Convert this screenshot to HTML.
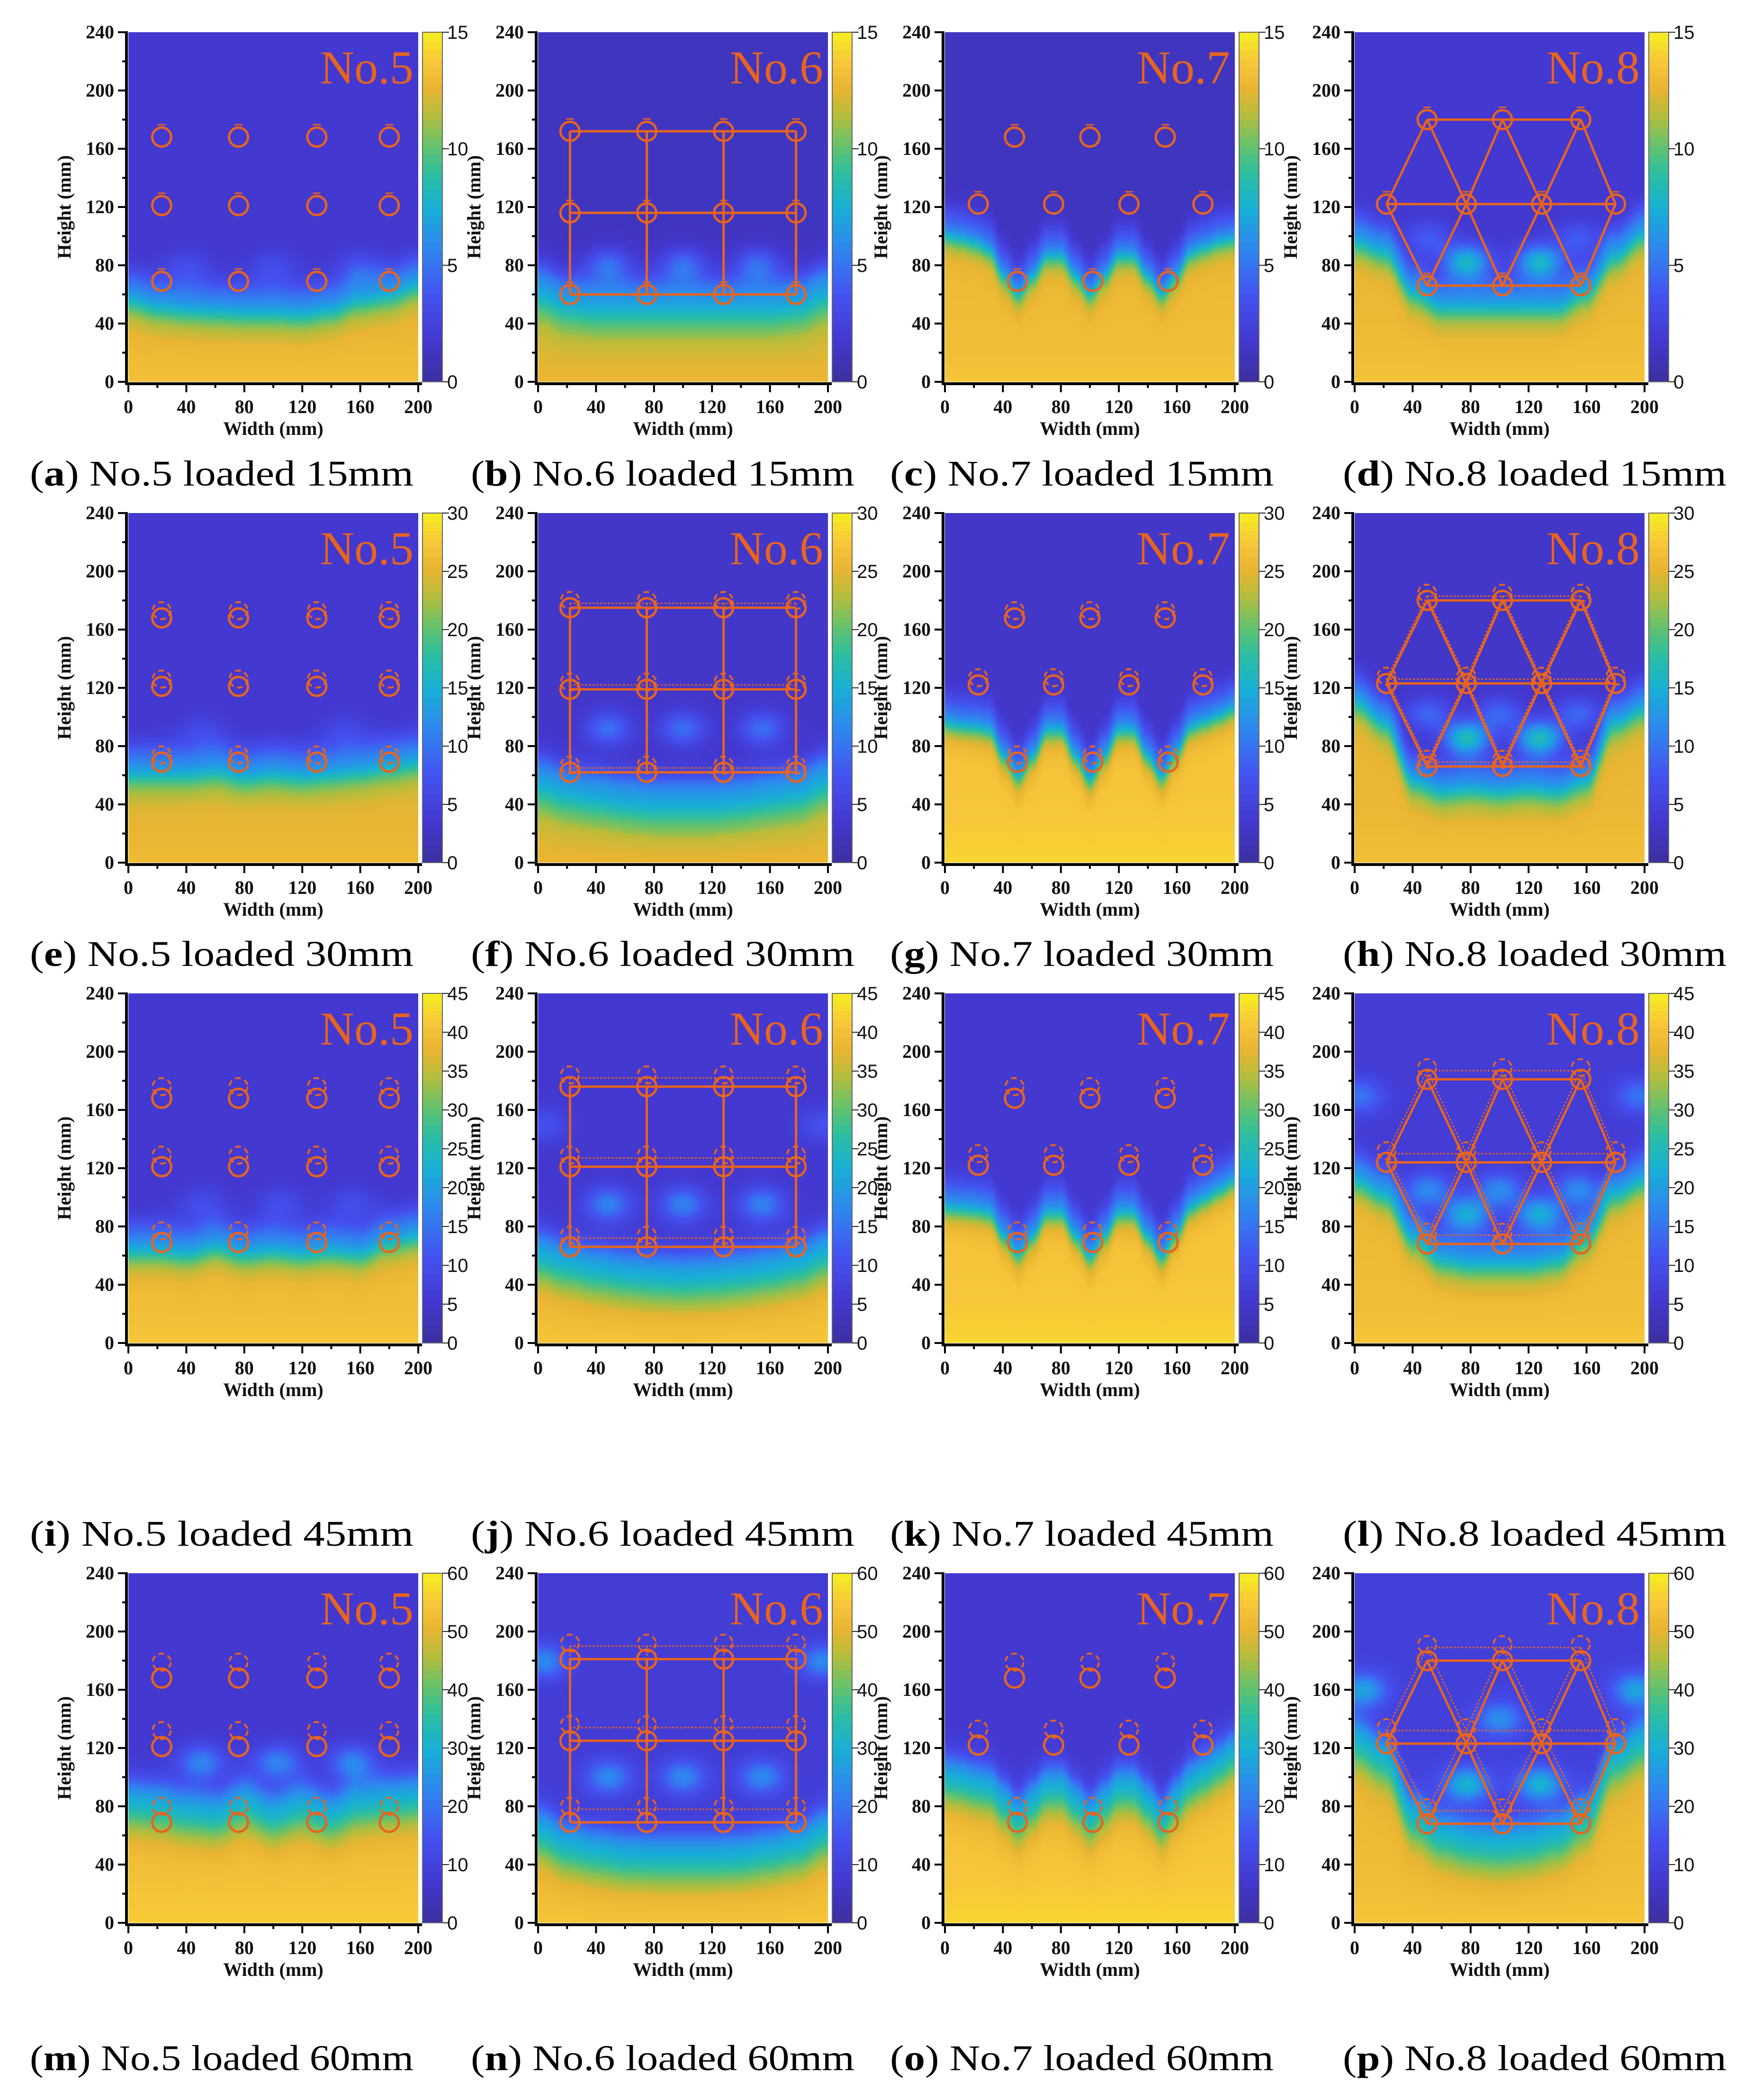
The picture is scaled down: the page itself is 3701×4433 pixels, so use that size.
<!DOCTYPE html>
<html><head><meta charset="utf-8">
<style>
html,body{margin:0;padding:0;background:#fff;}
#root{position:relative;width:3701px;height:4433px;overflow:hidden;background:#fff;}
canvas{position:absolute;}
svg{position:absolute;left:0;top:0;}
</style></head>
<body>
<div id="root">
<svg id="ov" width="3701" height="4433" xmlns="http://www.w3.org/2000/svg"></svg>
</div>
<script>
// ---- data ----
const panelIds = ["a","b","c","d","e","f","g","h","i","j","k","l","m","n","o","p"];
const specimens = ["No.5","No.6","No.7","No.8"];
const loads = [15,30,45,60];
const cbMax = [15,30,45,60];
const cbStep = [5,5,5,10];
const xTicks = [0,40,80,120,160,200];
const yTicks = [0,40,80,120,160,200,240];
// front height (mm), evenly spaced across width 0..200
const fronts = [
 [55,50,48,47,46,46,45,48,55,58,65],
 [60,52,50,50,50,50,50,50,50,52,60],
 [100,98,95,90,72,60,72,86,86,72,60,72,86,86,72,60,72,88,92,96,98],
 [95,88,60,50,50,50,50,50,60,85,100],
 [60,60,60,62,58,60,58,60,62,65,68],
 [52,46,43,40,38,38,38,40,43,46,54],
 [95,93,92,90,72,58,72,90,90,72,56,72,90,90,72,58,74,92,96,100,105],
 [110,95,55,48,50,48,50,48,55,95,105],
 [62,62,60,65,60,62,60,62,60,68,72],
 [56,50,46,43,41,40,41,43,46,50,58],
 [92,91,90,88,72,60,72,88,88,72,58,72,88,88,72,58,74,92,98,104,110],
 [110,100,70,55,52,52,52,55,70,100,110],
 [78,76,72,70,78,70,76,70,78,80,82],
 [58,48,44,41,40,40,40,41,44,48,58],
 [95,93,90,88,78,68,78,88,88,78,68,78,88,88,78,66,80,92,98,105,112],
 [120,108,68,55,50,48,50,55,68,108,120]
];
const hiVals = [0.84,0.8,0.86,0.85,0.82,0.8,0.9,0.84,0.86,0.86,0.9,0.86,0.88,0.86,0.9,0.86];
const loVals = [0.12,0.08,0.08,0.12,0.12,0.1,0.1,0.1,0.12,0.12,0.12,0.14,0.12,0.14,0.12,0.16];
// pockets: [x mm, y mm, amplitude]
const pockets = [
 [[40,78,0.1],[100,78,0.1],[160,78,0.1]],
 [[48,80,0.22],[100,80,0.22],[152,80,0.22]],
 [],
 [[77,82,0.4],[128,82,0.4],[50,98,0.15],[155,98,0.15]],
 [[50,90,0.08],[150,90,0.08]],
 [[48,92,0.22],[100,92,0.22],[155,92,0.22]],
 [],
 [[77,85,0.45],[128,85,0.45],[50,102,0.2],[100,102,0.2],[155,102,0.2]],
 [[50,95,0.1],[105,95,0.1],[155,95,0.1]],
 [[48,95,0.25],[100,95,0.25],[155,95,0.25],[3,150,0.12],[197,150,0.12]],
 [],
 [[77,88,0.35],[128,88,0.35],[50,105,0.25],[100,105,0.25],[155,105,0.25],[3,170,0.2],[197,170,0.2]],
 [[50,110,0.25],[103,110,0.25],[155,110,0.25]],
 [[48,100,0.25],[100,100,0.25],[155,100,0.25],[3,180,0.25],[197,180,0.25]],
 [],
 [[77,95,0.35],[128,95,0.35],[100,140,0.25],[5,160,0.3],[195,160,0.3]]
];
const layoutLeft = [271,1136,1995,2860];
const layoutTop = [68,1083,2097,3321];
const captionX = [63,994,1879,2835];
const captionY = [1025,2039,3263,4370];

const n5x=[23,76,130,180], n5y=[168,121,69];
const n6x=[22,75,128,178], n6y=[[172,116,60],[175,119,62],[176,121,66],[181,125,69]];
const n7top=[48,100,152], n7mid=[23,75,127,178], n7bot=[50,102,154], n7y=[168,122,69];
const n8top=[50,102,156], n8mid=[22,77,129,180], n8bot=[50,102,156], n8y=[[180,122,66],[180,123,66],[181,124,68],[180,123,68]];

// ---- helpers ----
const NS="http://www.w3.org/2000/svg";
const ov=document.getElementById('ov');
const root=document.getElementById('root');
const PW=612, PH=738, ORANGE="#e8641e";
function mk(tag,attrs,parent){const e=document.createElementNS(NS,tag);for(const k in attrs)e.setAttribute(k,attrs[k]);(parent||ov).appendChild(e);return e;}
const stops=[[0,[59,47,158]],[0.12,[67,56,208]],[0.25,[68,82,240]],[0.38,[47,134,240]],[0.5,[23,176,213]],[0.6,[46,191,158]],[0.68,[104,194,106]],[0.76,[179,189,61]],[0.84,[234,181,50]],[0.92,[248,200,58]],[1,[245,239,31]]];
function cmap(v){v=Math.max(0,Math.min(1,v));for(let i=1;i<stops.length;i++){if(v<=stops[i][0]){const a=stops[i-1],b=stops[i];const t=(v-a[0])/(b[0]-a[0]);return [0,1,2].map(k=>Math.round(a[1][k]+(b[1][k]-a[1][k])*t));}}return stops[stops.length-1][1];}
function frontAt(f,x){const n=f.length-1;const st=200/n;const i=Math.min(n-1,Math.floor(x/st));const t=(x-i*st)/st;const s=t*t*(3-2*t);return f[i]+(f[i+1]-f[i])*s;}

for(let p=0;p<16;p++){
  const r=Math.floor(p/4), c=p%4;
  const L=layoutLeft[c], T=layoutTop[r];
  const sx=v=>L+v/200*PW, sy=v=>T+PH-v/240*PH;
  const cv=document.createElement('canvas');
  const gw=101, gh=121;
  cv.width=gw; cv.height=gh;
  cv.style.left=L+'px'; cv.style.top=T+'px'; cv.style.width=PW+'px'; cv.style.height=PH+'px';
  
  
  const ctx=cv.getContext('2d'); const img=ctx.createImageData(gw,gh);
  const f=fronts[p], hi=hiVals[p], lo=loVals[p];
  for(let j=0;j<gh;j++){for(let i=0;i<gw;i++){
    const x=i*2, y=240-j*2;
    const fr=frontAt(f,x);
    const w=(r===3||c===1)?9:(c===2?5:6);
    let v=lo+(hi-lo)/(1+Math.exp(-(fr-y)/w));
    v+=0.14*Math.exp(-Math.pow((y-fr-12)/12,2));
    for(const pk of pockets[p]){v+=pk[2]*Math.exp(-(Math.pow((x-pk[0])/16,2)+Math.pow((y-pk[1])/12,2)));}
    if(y<fr-20) v+=0.05*Math.exp(-y/30);
    const col=cmap(v);const o=(j*gw+i)*4;
    img.data[o]=col[0];img.data[o+1]=col[1];img.data[o+2]=col[2];img.data[o+3]=255;
  }}
  ctx.putImageData(img,0,0);
  root.insertBefore(cv,ov);
  const cbx=L+PW+9, cbw=42;
  const g=mk('g',{});
  
  
  const nseg=40;
  for(let k=0;k<nseg;k++){const col=cmap((k+0.5)/nseg);
    mk('rect',{x:cbx,y:T+PH-(k+1)*PH/nseg,width:cbw,height:PH/nseg+1,fill:`rgb(${col})`},g);}
  mk('rect',{x:cbx,y:T,width:cbw,height:PH,fill:'none',stroke:'#666','stroke-width':2},g);
  for(let v=0;v<=cbMax[r];v+=cbStep[r]){const yy=T+PH-v/cbMax[r]*PH;
    mk('line',{x1:cbx+cbw,x2:cbx+cbw+14,y1:yy,y2:yy,stroke:'#222','stroke-width':2},g);
    const t=mk('text',{x:cbx+cbw+10,y:yy+14,'font-family':'Liberation Sans, sans-serif','font-size':40,fill:'#111'},g);t.textContent=v;}
  const ax=mk('g',{});
  
  
  mk('line',{x1:L-4,x2:L-4,y1:T-2,y2:T+PH+6,stroke:'#000','stroke-width':6},ax);
  mk('line',{x1:L-6,x2:L+PW+8,y1:T+PH+4,y2:T+PH+4,stroke:'#000','stroke-width':6},ax);
  for(let v=0;v<=240;v+=20){const yy=sy(v);mk('line',{x1:L-(v%40===0?22:13),x2:L-4,y1:yy,y2:yy,stroke:'#000','stroke-width':4},ax);}
  for(let v=0;v<=200;v+=20){const xx=sx(v);mk('line',{x1:xx,x2:xx,y1:T+PH+4,y2:T+PH+(v%40===0?22:13),stroke:'#000','stroke-width':4},ax);}
  for(const v of yTicks){const t=mk('text',{x:L-30,y:sy(v)+13,'text-anchor':'end','font-family':'Liberation Serif, serif','font-weight':'bold','font-size':40,fill:'#111'},ax);t.textContent=v;}
  for(const v of xTicks){const t=mk('text',{x:sx(v),y:T+PH+66,'text-anchor':'middle','font-family':'Liberation Serif, serif','font-weight':'bold','font-size':40,fill:'#111'},ax);t.textContent=v;}
  const xl=mk('text',{x:L+PW/2,y:T+PH+112,'text-anchor':'middle','font-family':'Liberation Serif, serif','font-weight':'bold','font-size':40,fill:'#111'},ax);xl.textContent='Width (mm)';
  
  
  const yl=mk('text',{x:0,y:0,transform:`translate(${L-122},${T+PH/2}) rotate(-90)`,'text-anchor':'middle','font-family':'Liberation Serif, serif','font-weight':'bold','font-size':40,fill:'#111'},ax);yl.textContent='Height (mm)';
  
  
  const sl=mk('text',{x:L+PW-10,y:T+108,'text-anchor':'end','font-family':'Liberation Serif, serif','font-size':100,fill:ORANGE});sl.textContent=specimens[c];
  
  
  const og=mk('g',{fill:'none',stroke:ORANGE,'stroke-width':5});
  
  
  const nodes=[];const lines=[];
  if(c===0){for(const y of n5y)for(const x of n5x)nodes.push([x,y]);}
  if(c===1){const ys=n6y[r];for(const y of ys)for(const x of n6x)nodes.push([x,y]);
    for(const y of ys)lines.push([n6x[0],y,n6x[3],y]);for(const x of n6x)lines.push([x,ys[0],x,ys[2]]);}
  if(c===2){for(const x of n7top)nodes.push([x,n7y[0]]);for(const x of n7mid)nodes.push([x,n7y[1]]);for(const x of n7bot)nodes.push([x,n7y[2]]);}
  if(c===3){const ys=n8y[r];for(const x of n8top)nodes.push([x,ys[0]]);for(const x of n8mid)nodes.push([x,ys[1]]);for(const x of n8bot)nodes.push([x,ys[2]]);
    lines.push([n8top[0],ys[0],n8top[2],ys[0]]);lines.push([n8mid[0],ys[1],n8mid[3],ys[1]]);lines.push([n8bot[0],ys[2],n8bot[2],ys[2]]);
    for(let k=0;k<3;k++){lines.push([n8top[k],ys[0],n8mid[k],ys[1]]);lines.push([n8top[k],ys[0],n8mid[k+1],ys[1]]);lines.push([n8bot[k],ys[2],n8mid[k],ys[1]]);lines.push([n8bot[k],ys[2],n8mid[k+1],ys[1]]);}}
  const off=r*3;
  for(const l of lines){
    mk('line',{x1:sx(l[0]),y1:sy(l[1]),x2:sx(l[2]),y2:sy(l[3])},og);
    if(r>0)mk('line',{x1:sx(l[0]),y1:sy(l[1]+off),x2:sx(l[2]),y2:sy(l[3]+off),'stroke-dasharray':'4 4','stroke-width':3},og);
  }
  for(const n of nodes){
    mk('ellipse',{cx:sx(n[0]),cy:sy(n[1]),rx:20,ry:20},og);
    if(r>0)mk('ellipse',{cx:sx(n[0]),cy:sy(n[1]+off+2),rx:19,ry:18,'stroke-dasharray':'12 8','stroke-width':4},og);
    else {mk('line',{x1:sx(n[0])-8,x2:sx(n[0])+8,y1:sy(n[1])-26,y2:sy(n[1])-26,'stroke-width':3},og);}
  }
  const cap=mk('text',{x:captionX[c],y:captionY[r],'font-family':'Liberation Serif, serif','font-size':76,fill:'#000',textLength:810,lengthAdjust:'spacingAndGlyphs'});
  
  
  const t1=mk('tspan',{},cap);t1.textContent='(';
  const t2=mk('tspan',{'font-weight':'bold'},cap);t2.textContent=panelIds[p];
  const t3=mk('tspan',{},cap);t3.textContent=') '+specimens[c]+' loaded '+loads[r]+'mm';
}
</script>
</body></html>
